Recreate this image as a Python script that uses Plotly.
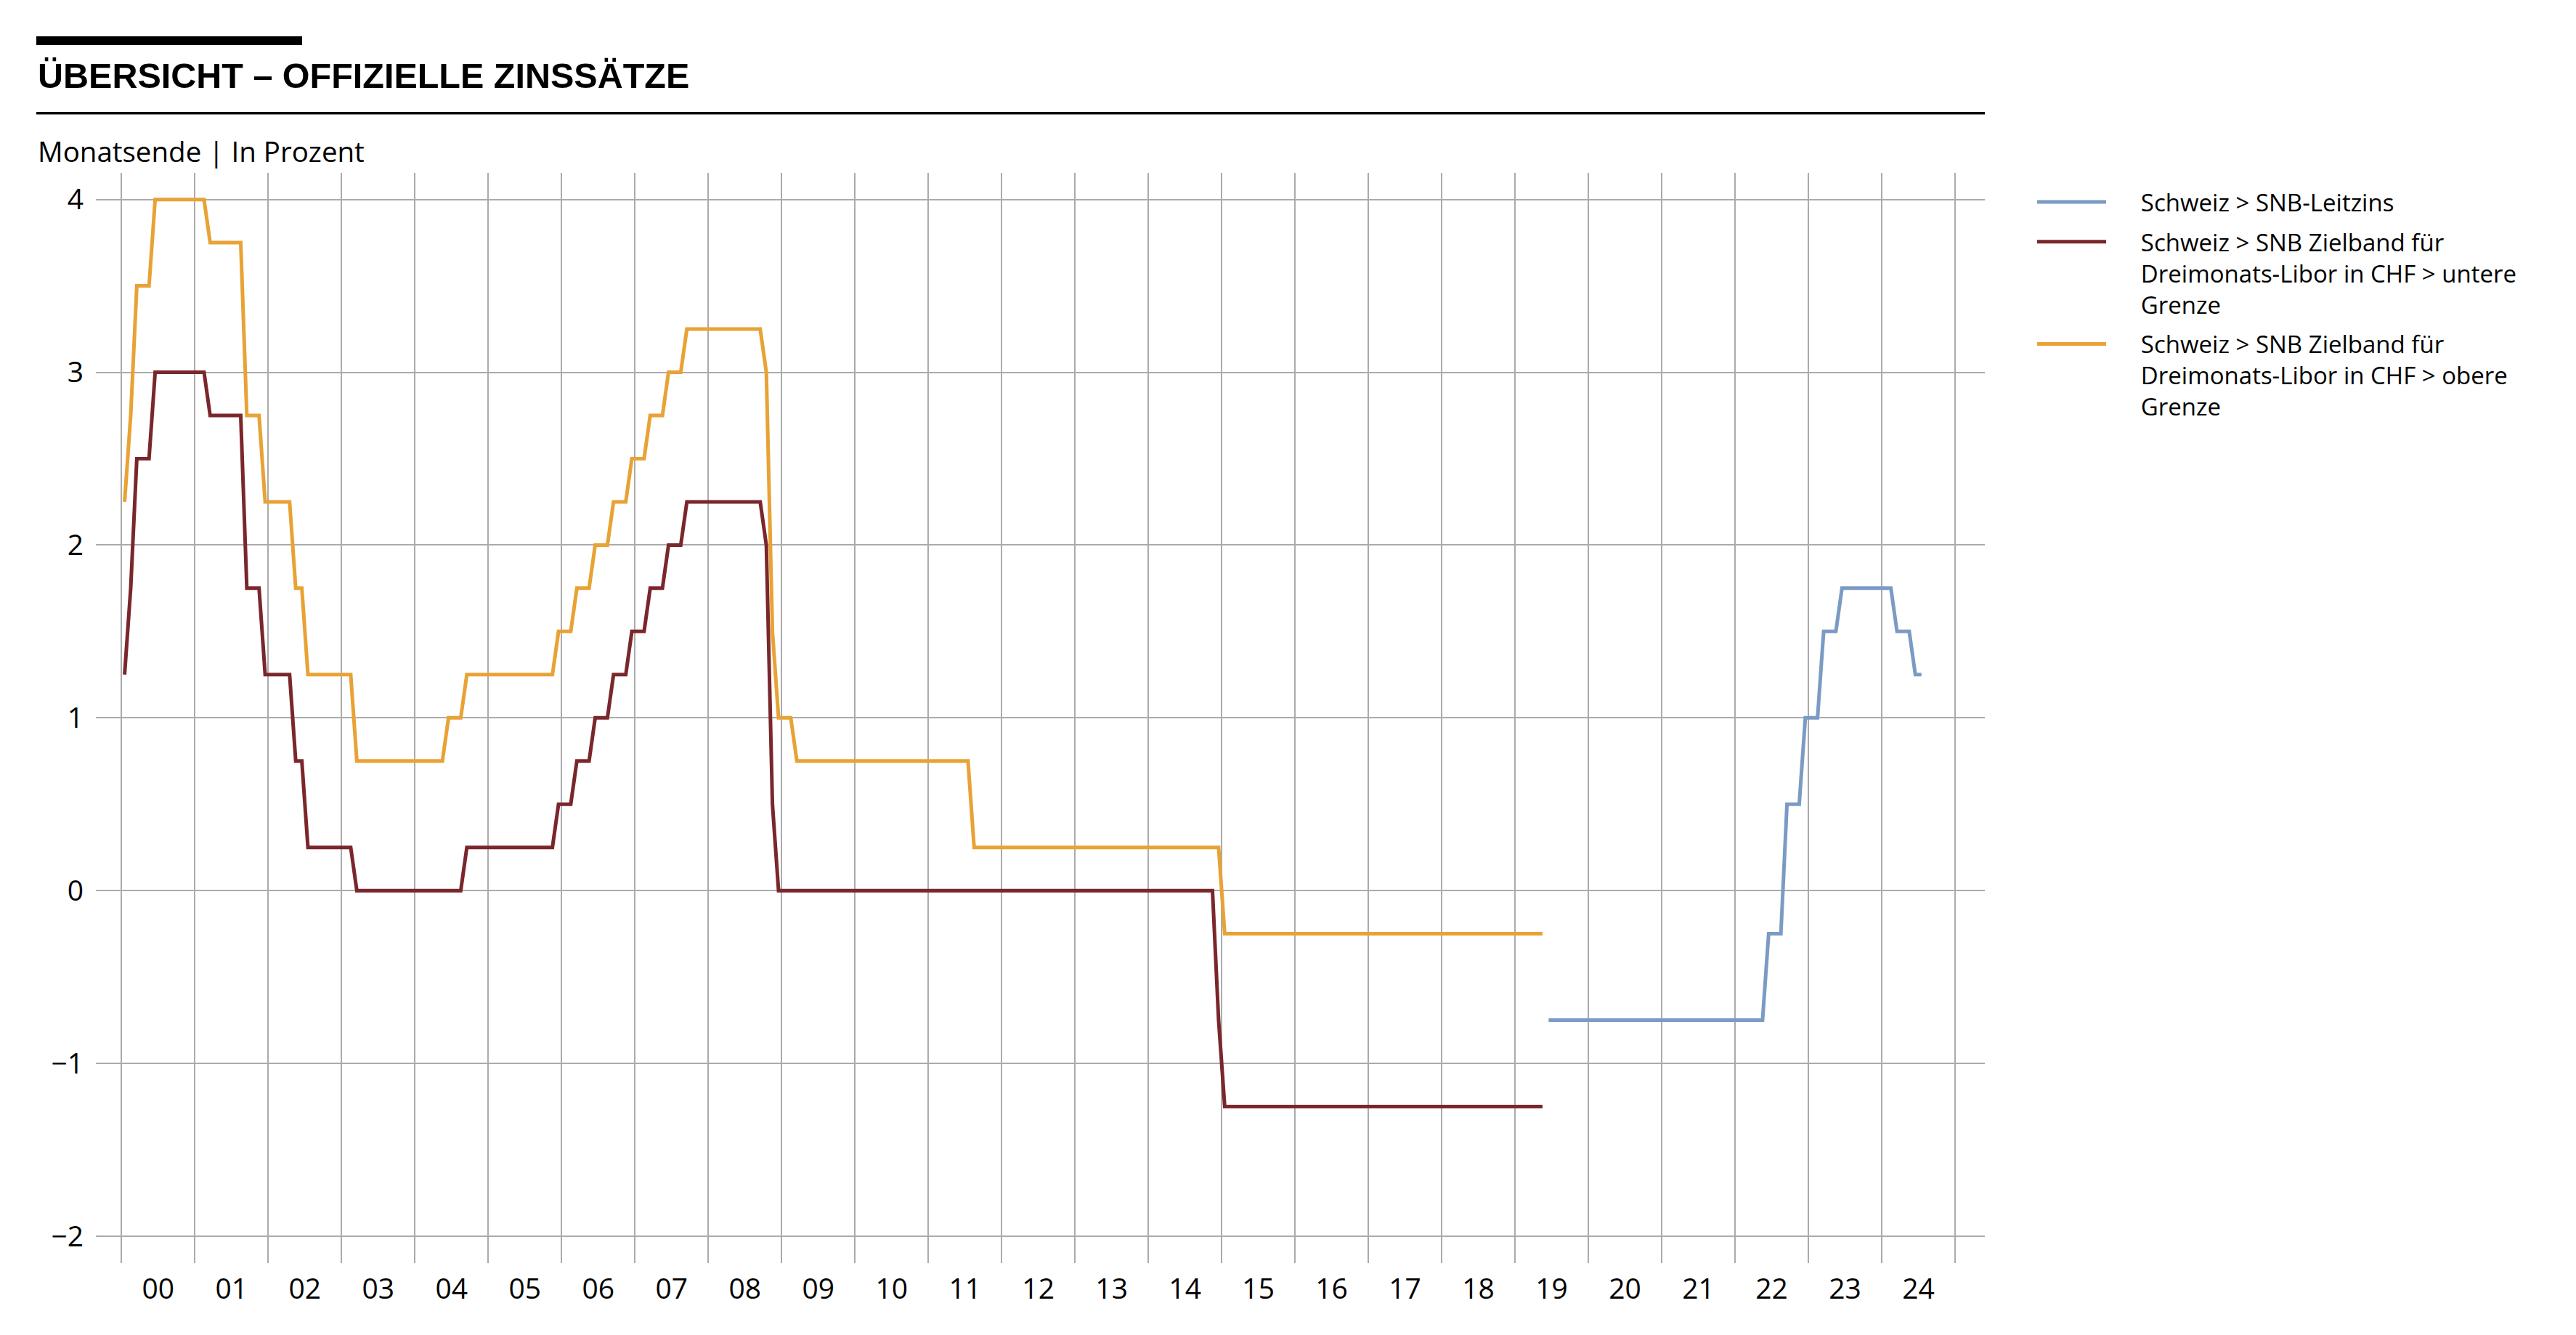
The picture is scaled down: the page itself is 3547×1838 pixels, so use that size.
import pandas as pd
import plotly.graph_objects as go

# ---------------- data (month-end values, in percent) ----------------
band_start, band_end = "2000-01", "2019-05"
leit_start, leit_end = "2019-06", "2024-07"

untere_grenze = [
    1.25, 1.75, 2.5, 2.5, 2.5, 3.0, 3.0, 3.0, 3.0, 3.0, 3.0, 3.0,          # 2000
    3.0, 3.0, 2.75, 2.75, 2.75, 2.75, 2.75, 2.75, 1.75, 1.75, 1.75, 1.25,  # 2001
    1.25, 1.25, 1.25, 1.25, 0.75, 0.75, 0.25, 0.25, 0.25, 0.25, 0.25, 0.25,  # 2002
    0.25, 0.25, 0.0, 0.0, 0.0, 0.0, 0.0, 0.0, 0.0, 0.0, 0.0, 0.0,          # 2003
    0.0, 0.0, 0.0, 0.0, 0.0, 0.0, 0.0, 0.0, 0.25, 0.25, 0.25, 0.25,        # 2004
    0.25, 0.25, 0.25, 0.25, 0.25, 0.25, 0.25, 0.25, 0.25, 0.25, 0.25, 0.5,  # 2005
    0.5, 0.5, 0.75, 0.75, 0.75, 1.0, 1.0, 1.0, 1.25, 1.25, 1.25, 1.5,      # 2006
    1.5, 1.5, 1.75, 1.75, 1.75, 2.0, 2.0, 2.0, 2.25, 2.25, 2.25, 2.25,     # 2007
    2.25, 2.25, 2.25, 2.25, 2.25, 2.25, 2.25, 2.25, 2.25, 2.0, 0.5, 0.0,   # 2008
    0.0, 0.0, 0.0, 0.0, 0.0, 0.0, 0.0, 0.0, 0.0, 0.0, 0.0, 0.0,            # 2009
    0.0, 0.0, 0.0, 0.0, 0.0, 0.0, 0.0, 0.0, 0.0, 0.0, 0.0, 0.0,            # 2010
    0.0, 0.0, 0.0, 0.0, 0.0, 0.0, 0.0, 0.0, 0.0, 0.0, 0.0, 0.0,            # 2011
    0.0, 0.0, 0.0, 0.0, 0.0, 0.0, 0.0, 0.0, 0.0, 0.0, 0.0, 0.0,            # 2012
    0.0, 0.0, 0.0, 0.0, 0.0, 0.0, 0.0, 0.0, 0.0, 0.0, 0.0, 0.0,            # 2013
    0.0, 0.0, 0.0, 0.0, 0.0, 0.0, 0.0, 0.0, 0.0, 0.0, 0.0, -0.75,          # 2014
    -1.25, -1.25, -1.25, -1.25, -1.25, -1.25, -1.25, -1.25, -1.25, -1.25, -1.25, -1.25,  # 2015
    -1.25, -1.25, -1.25, -1.25, -1.25, -1.25, -1.25, -1.25, -1.25, -1.25, -1.25, -1.25,  # 2016
    -1.25, -1.25, -1.25, -1.25, -1.25, -1.25, -1.25, -1.25, -1.25, -1.25, -1.25, -1.25,  # 2017
    -1.25, -1.25, -1.25, -1.25, -1.25, -1.25, -1.25, -1.25, -1.25, -1.25, -1.25, -1.25,  # 2018
    -1.25, -1.25, -1.25, -1.25, -1.25,                                     # 2019 (Jan-May)
]

obere_grenze = [
    2.25, 2.75, 3.5, 3.5, 3.5, 4.0, 4.0, 4.0, 4.0, 4.0, 4.0, 4.0,          # 2000
    4.0, 4.0, 3.75, 3.75, 3.75, 3.75, 3.75, 3.75, 2.75, 2.75, 2.75, 2.25,  # 2001
    2.25, 2.25, 2.25, 2.25, 1.75, 1.75, 1.25, 1.25, 1.25, 1.25, 1.25, 1.25,  # 2002
    1.25, 1.25, 0.75, 0.75, 0.75, 0.75, 0.75, 0.75, 0.75, 0.75, 0.75, 0.75,  # 2003
    0.75, 0.75, 0.75, 0.75, 0.75, 1.0, 1.0, 1.0, 1.25, 1.25, 1.25, 1.25,   # 2004
    1.25, 1.25, 1.25, 1.25, 1.25, 1.25, 1.25, 1.25, 1.25, 1.25, 1.25, 1.5,  # 2005
    1.5, 1.5, 1.75, 1.75, 1.75, 2.0, 2.0, 2.0, 2.25, 2.25, 2.25, 2.5,      # 2006
    2.5, 2.5, 2.75, 2.75, 2.75, 3.0, 3.0, 3.0, 3.25, 3.25, 3.25, 3.25,     # 2007
    3.25, 3.25, 3.25, 3.25, 3.25, 3.25, 3.25, 3.25, 3.25, 3.0, 1.5, 1.0,   # 2008
    1.0, 1.0, 0.75, 0.75, 0.75, 0.75, 0.75, 0.75, 0.75, 0.75, 0.75, 0.75,  # 2009
    0.75, 0.75, 0.75, 0.75, 0.75, 0.75, 0.75, 0.75, 0.75, 0.75, 0.75, 0.75,  # 2010
    0.75, 0.75, 0.75, 0.75, 0.75, 0.75, 0.75, 0.25, 0.25, 0.25, 0.25, 0.25,  # 2011
    0.25, 0.25, 0.25, 0.25, 0.25, 0.25, 0.25, 0.25, 0.25, 0.25, 0.25, 0.25,  # 2012
    0.25, 0.25, 0.25, 0.25, 0.25, 0.25, 0.25, 0.25, 0.25, 0.25, 0.25, 0.25,  # 2013
    0.25, 0.25, 0.25, 0.25, 0.25, 0.25, 0.25, 0.25, 0.25, 0.25, 0.25, 0.25,  # 2014
    -0.25, -0.25, -0.25, -0.25, -0.25, -0.25, -0.25, -0.25, -0.25, -0.25, -0.25, -0.25,  # 2015
    -0.25, -0.25, -0.25, -0.25, -0.25, -0.25, -0.25, -0.25, -0.25, -0.25, -0.25, -0.25,  # 2016
    -0.25, -0.25, -0.25, -0.25, -0.25, -0.25, -0.25, -0.25, -0.25, -0.25, -0.25, -0.25,  # 2017
    -0.25, -0.25, -0.25, -0.25, -0.25, -0.25, -0.25, -0.25, -0.25, -0.25, -0.25, -0.25,  # 2018
    -0.25, -0.25, -0.25, -0.25, -0.25,                                     # 2019 (Jan-May)
]

snb_leitzins = [
    -0.75, -0.75, -0.75, -0.75, -0.75, -0.75, -0.75,                       # 2019 (Jun-Dec)
    -0.75, -0.75, -0.75, -0.75, -0.75, -0.75, -0.75, -0.75, -0.75, -0.75, -0.75, -0.75,  # 2020
    -0.75, -0.75, -0.75, -0.75, -0.75, -0.75, -0.75, -0.75, -0.75, -0.75, -0.75, -0.75,  # 2021
    -0.75, -0.75, -0.75, -0.75, -0.75, -0.25, -0.25, -0.25, 0.5, 0.5, 0.5, 1.0,  # 2022
    1.0, 1.0, 1.5, 1.5, 1.5, 1.75, 1.75, 1.75, 1.75, 1.75, 1.75, 1.75,     # 2023
    1.75, 1.75, 1.5, 1.5, 1.5, 1.25, 1.25,                                 # 2024 (Jan-Jul)
]

year_labels = ["00", "01", "02", "03", "04", "05", "06", "07", "08", "09", "10", "11",
               "12", "13", "14", "15", "16", "17", "18", "19", "20", "21", "22", "23", "24"]
first_year = 2000
y_ticks = [-2, -1, 0, 1, 2, 3, 4]

series_names = [
    "Schweiz > SNB-Leitzins",
    "Schweiz > SNB Zielband für<br>Dreimonats-Libor in CHF > untere<br>Grenze",
    "Schweiz > SNB Zielband für<br>Dreimonats-Libor in CHF > obere<br>Grenze",
]

# ---------------- helpers ----------------
def month_positions(start, end):
    per = pd.period_range(start, end, freq="M")
    return [p.year + (p.month - 0.5) / 12 for p in per]

x_band = month_positions(band_start, band_end)
x_leit = month_positions(leit_start, leit_end)

BLUE = "#7b9bc4"
DARKRED = "#7a272b"
ORANGE = "#e8a235"
GRID = "#ababab"
LW = 5

# legend: gap between symbol line and text
GAP = "\u00a0" * 5

def legend_label(s):
    return "<br>".join(GAP + part for part in s.split("<br>"))

fig = go.Figure()
fig.add_trace(go.Scatter(x=x_leit, y=snb_leitzins, mode="lines", name=legend_label(series_names[0]),
                         legendgroup="a", line=dict(color=BLUE, width=LW)))
fig.add_trace(go.Scatter(x=x_band, y=untere_grenze, mode="lines", name=legend_label(series_names[1]),
                         legendgroup="b", line=dict(color=DARKRED, width=LW)))
fig.add_trace(go.Scatter(x=x_band, y=obere_grenze, mode="lines", name=legend_label(series_names[2]),
                         legendgroup="c", line=dict(color=ORANGE, width=LW)))

# page offset (body margin) compensation
OFF = 8
W, H = 3547 - 2 * OFF, 1838 - 2 * OFF
L, T = 132 - OFF, 238 - OFF
pw, ph = 2601, 1501
R, B = W - L - pw, H - T - ph

def px_x(p):  # p: page pixel x
    return (p - OFF - L) / pw

def px_y(p):  # p: page pixel y
    return (T + ph - (p - OFF)) / ph

n_years = len(year_labels)
fig.update_layout(
    width=W, height=H, autosize=False,
    margin=dict(l=L, r=R, t=T, b=B, pad=0),
    paper_bgcolor="white", plot_bgcolor="white",
    font=dict(family="Open Sans, Noto Sans, sans-serif", color="#000000"),
    showlegend=True,
    legend=dict(
        x=px_x(2800), y=px_y(250), xanchor="left", yanchor="top",
        font=dict(size=33, family="Open Sans, Noto Sans, sans-serif", color="#000000"),
        itemwidth=95, valign="top", tracegroupgap=9, bgcolor="rgba(0,0,0,0)",
        borderwidth=0,
    ),
    xaxis=dict(
        range=[first_year - 0.35, first_year + 25.406],
        tickmode="array",
        tickvals=[first_year + i + 0.5 for i in range(n_years)],
        ticktext=year_labels,
        showgrid=False, zeroline=False, showline=False, ticks="",
        tickfont=dict(size=39),
        ticklabelstandoff=9,
        minor=dict(tickmode="linear", tick0=first_year, dtick=1, showgrid=True,
                   gridcolor=GRID, gridwidth=2, ticks=""),
    ),
    yaxis=dict(
        range=[-2.156, 4.154],
        tickmode="array", tickvals=y_ticks,
        showgrid=True, gridcolor=GRID, gridwidth=2,
        zeroline=False, showline=False, ticks="",
        tickfont=dict(size=39),
        ticklabelstandoff=16,
    ),
    shapes=[
        dict(type="rect", xref="paper", yref="paper",
             x0=px_x(50), x1=px_x(416), y0=px_y(62), y1=px_y(50),
             fillcolor="black", line=dict(width=0), layer="above"),
        dict(type="rect", xref="paper", yref="paper",
             x0=px_x(50), x1=px_x(2733), y0=px_y(157.5), y1=px_y(154),
             fillcolor="black", line=dict(width=0), layer="above"),
    ],
    annotations=[
        dict(text="<b>ÜBERSICHT – OFFIZIELLE ZINSSÄTZE</b>", xref="paper", yref="paper",
             x=px_x(50), y=px_y(104), xanchor="left", yanchor="middle", showarrow=False,
             font=dict(family="Liberation Sans, Arial, sans-serif", size=48.5, color="black")),
        dict(text="Monatsende | In Prozent", xref="paper", yref="paper",
             x=px_x(50), y=px_y(208), xanchor="left", yanchor="middle", showarrow=False,
             font=dict(family="Open Sans, Noto Sans, sans-serif", size=38.5, color="black")),
    ],
)

fig.write_html("out.html")
